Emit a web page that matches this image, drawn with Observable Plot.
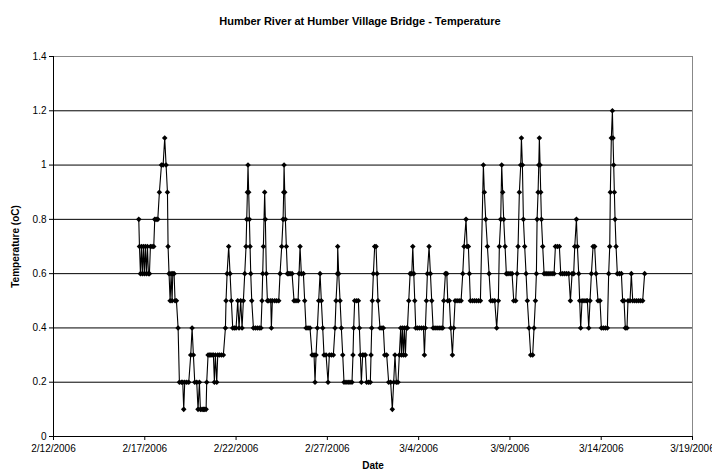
<!DOCTYPE html>
<html>
<head>
<meta charset="utf-8">
<script src="https://cdn.jsdelivr.net/npm/d3@7"></script>
<script src="https://cdn.jsdelivr.net/npm/@observablehq/plot@0.6"></script>
<style>
  html, body { margin: 0; padding: 0; background: #fff; }
  [aria-label="x-axis label"], [aria-label="x-axis label"] text,
  [aria-label="y-axis label"], [aria-label="y-axis label"] text { font-weight: bold; }
</style>
</head>
<body>
<div id="chart"></div>
<script>
const title = "Humber River at Humber Village Bridge - Temperature";
const xLabel = "Date";
const yLabel = "Temperature (oC)";
const startDate = "2006-02-12";
const xTickDates = ["2006-02-12","2006-02-17","2006-02-22","2006-02-27","2006-03-04","2006-03-09","2006-03-14","2006-03-19"];
const yTicks = [0, 0.2, 0.4, 0.6, 0.8, 1.0, 1.2, 1.4];

// hours after 2006-02-12 00:00
const hours = [
112.1,113.0,114.3,115.6,116.9,118.2,119.5,120.8,122.2,123.5,
124.8,126.1,127.4,129.6,131.8,133.1,134.9,137.1,139.2,141.9,
144.1,146.2,148.0,149.8,150.6,151.9,153.3,154.6,155.9,156.8,
158.5,159.8,161.6,163.8,165.5,168.1,169.9,171.2,172.5,175.2,
177.8,180.4,182.2,183.9,185.7,188.3,190.0,191.8,193.1,195.3,
197.1,198.8,200.6,201.4,203.2,204.9,206.7,208.4,210.2,211.5,
212.8,214.6,215.9,218.1,220.7,223.3,226.0,226.8,228.2,230.3,
232.1,233.8,235.6,237.8,240.0,242.2,243.9,246.1,247.9,249.6,
251.4,253.1,254.0,254.9,255.7,256.6,257.5,258.4,259.3,260.6,
262.8,265.4,268.0,270.6,272.8,274.1,275.0,275.9,277.6,278.5,
279.8,281.2,
282.9,285.6,286.4,287.7,290.8,293.4,296.1,297.8,300.0,301.8,
302.6,303.1,304.0,304.8,306.1,307.5,309.2,311.0,313.6,316.2,
318.8,321.5,322.8,324.1,325.8,328.5,330.2,332.0,334.6,337.2,
339.9,342.5,343.8,345.1,346.9,348.6,350.4,352.1,353.9,355.6,
358.3,360.9,362.6,365.3,367.9,370.1,371.4,373.2,373.6,374.9,
376.7,378.4,380.2,381.9,384.5,387.2,389.8,392.4,393.7,394.6,
395.9,398.6,400.8,402.1,403.4,404.7,406.4,408.2,410.0,411.7,
414.3,416.5,417.4,418.3,419.1,420.5,422.2,424.0,425.3,426.6,
429.2,431.8,433.6,435.4,438.0,440.6,443.2,445.4,447.2,448.9,
450.7,452.9,454.6,456.4,
457.4,458.7,460.0,461.3,462.6,464.0,465.3,467.0,468.8,471.0,
472.3,473.6,474.9,476.2,478.4,481.0,483.7,486.3,487.6,488.9,
490.2,491.5,493.7,495.5,497.2,499.0,501.6,504.2,506.9,509.5,
511.7,513.0,515.2,517.0,518.3,520.4,522.2,524.4,526.1,527.9,
530.5,533.2,535.8,538.0,539.7,542.3,543.7,545.4,546.7,548.0,
550.7,553.3,555.9,558.6,561.2,565.1,566.4,568.2,570.4,572.6,
574.8,577.4,580.0,582.6,584.8,586.1,587.9,589.2,590.5,591.8,
593.6,595.3,597.5,600.2,602.8,605.0,607.6,609.4,610.7,612.4,
614.2,615.1,616.4,617.7,619.4,621.2,622.9,625.1,627.3,629.9,
631.7,
633.5,634.8,635.7,637.0,637.9,638.7,639.6,640.5,641.4,643.1,
644.9,647.5,650.1,652.7,655.4,658.0,659.8,662.4,665.0,666.8,
669.4,672.0,674.6,677.3,679.5,681.7,683.8,685.2,687.4,688.7,
690.4,691.7,693.0,694.8,697.4,700.1,701.8,703.6,705.3,707.1,
709.3,711.4,713.2,715.8,718.4,720.2,722.8,725.5,728.1,729.8,
731.2,732.0,733.3,734.7,735.5,736.4,737.3,738.2,739.5,741.2,
743.9,746.5,748.2,750.0,751.7,753.9,755.2,757.9,759.6,761.4,
764.0,766.6,769.3,771.9,774.5,777.1
];

const temps = [
.8,.7,.6,.7,.6,.7,.6,.7,.6,.7,
.6,.6,.7,.7,.7,.8,.8,.8,.9,1.0,
1.0,1.1,1.0,.9,.7,.6,.5,.6,.5,.6,
.6,.5,.5,.4,.2,.2,.2,.1,.2,.2,
.2,.3,.4,.3,.2,.2,.1,.2,.1,.1,
.1,.1,.1,.2,.3,.3,.3,.3,.3,.2,
.3,.2,.3,.3,.3,.3,.4,.5,.6,.7,
.6,.5,.4,.4,.4,.5,.4,.5,.4,.5,
.6,.7,.8,.9,1.0,.9,.8,.7,.6,.5,
.4,.4,.4,.4,.4,.5,.6,.7,.9,.8,
.6,.5,
.5,.5,.4,.5,.5,.5,.5,.6,.7,.8,
.9,1.0,.9,.8,.7,.6,.6,.6,.6,.5,
.5,.5,.6,.7,.6,.6,.5,.4,.4,.4,
.3,.3,.2,.3,.4,.5,.6,.5,.4,.3,
.3,.2,.3,.3,.3,.4,.5,.6,.7,.6,
.5,.4,.3,.2,.2,.2,.2,.2,.3,.4,
.5,.5,.5,.4,.3,.2,.3,.3,.3,.2,
.2,.2,.3,.4,.5,.6,.7,.7,.6,.5,
.4,.4,.4,.3,.3,.2,.2,.1,.2,.3,
.2,.2,.3,.4,
.3,.4,.3,.4,.3,.4,.4,.5,.6,.6,
.7,.6,.5,.4,.4,.4,.4,.4,.3,.4,
.5,.6,.7,.6,.5,.4,.4,.4,.4,.4,
.4,.5,.6,.6,.5,.5,.4,.3,.4,.5,
.5,.5,.5,.6,.7,.8,.7,.7,.6,.5,
.5,.5,.5,.5,.5,1.0,.9,.8,.7,.6,
.5,.5,.5,.4,.5,.7,.8,1.0,.9,.8,
.7,.6,.6,.6,.6,.5,.5,.6,.7,.9,
1.0,1.1,1.0,.8,.7,.6,.5,.4,.3,.3,
.4,
.5,.6,.8,.9,1.0,1.1,1.0,.9,.8,.7,
.6,.6,.6,.6,.6,.6,.7,.7,.7,.6,
.6,.6,.6,.6,.5,.6,.6,.7,.8,.7,
.6,.5,.4,.5,.5,.5,.5,.4,.5,.6,
.7,.7,.6,.5,.5,.4,.4,.4,.4,.6,
.7,.9,1.1,1.2,1.1,1.0,.9,.8,.7,.6,
.6,.6,.5,.5,.4,.4,.5,.5,.6,.5,
.5,.5,.5,.5,.5,.6
];

const t0 = new Date(startDate).getTime();
const data = hours.map((h, i) => ({date: new Date(t0 + h * 3600e3), temp: temps[i]}));
const xTicks = xTickDates.map(d => new Date(d));

const chart = Plot.plot({
  width: 712,
  height: 474,
  marginTop: 56,
  marginBottom: 38,
  marginLeft: 53,
  marginRight: 20,
  style: {fontFamily: "'Liberation Sans', Arial, sans-serif", fontSize: "10px", background: "#fff", color: "#000"},
  x: {
    type: "utc",
    domain: [xTicks[0], xTicks[xTicks.length - 1]],
    ticks: xTicks,
    tickFormat: d3.utcFormat("%-m/%-d/%Y"),
    tickSize: 4,
    tickPadding: 4,
    label: xLabel,
    labelAnchor: "center",
    labelOffset: 32,
    labelArrow: "none"
  },
  y: {
    domain: [0, 1.4],
    ticks: yTicks,
    tickFormat: d => String(+d.toFixed(1)),
    tickSize: 4,
    tickPadding: 3,
    label: yLabel,
    labelAnchor: "center",
    labelOffset: 42,
    labelArrow: "none"
  },
  marks: [
    Plot.ruleY(yTicks.slice(1, -1), {stroke: "#000", strokeWidth: 1}),
    Plot.ruleY([1.4], {stroke: "#888"}),
    Plot.ruleX([xTicks[xTicks.length - 1]], {stroke: "#888"}),
    Plot.ruleX([xTicks[0]], {stroke: "#000"}),
    Plot.ruleY([0], {stroke: "#000"}),
    Plot.line(data, {x: "date", y: "temp", stroke: "#000", strokeWidth: 1.1}),
    Plot.dot(data, {x: "date", y: "temp", symbol: "diamond2", fill: "#000", stroke: "none", r: 2.5}),
    Plot.text([title], {frameAnchor: "top", dy: -39, dx: -13, fontWeight: "bold", fontSize: 11})
  ]
});
document.getElementById("chart").appendChild(chart);
</script>
</body>
</html>
